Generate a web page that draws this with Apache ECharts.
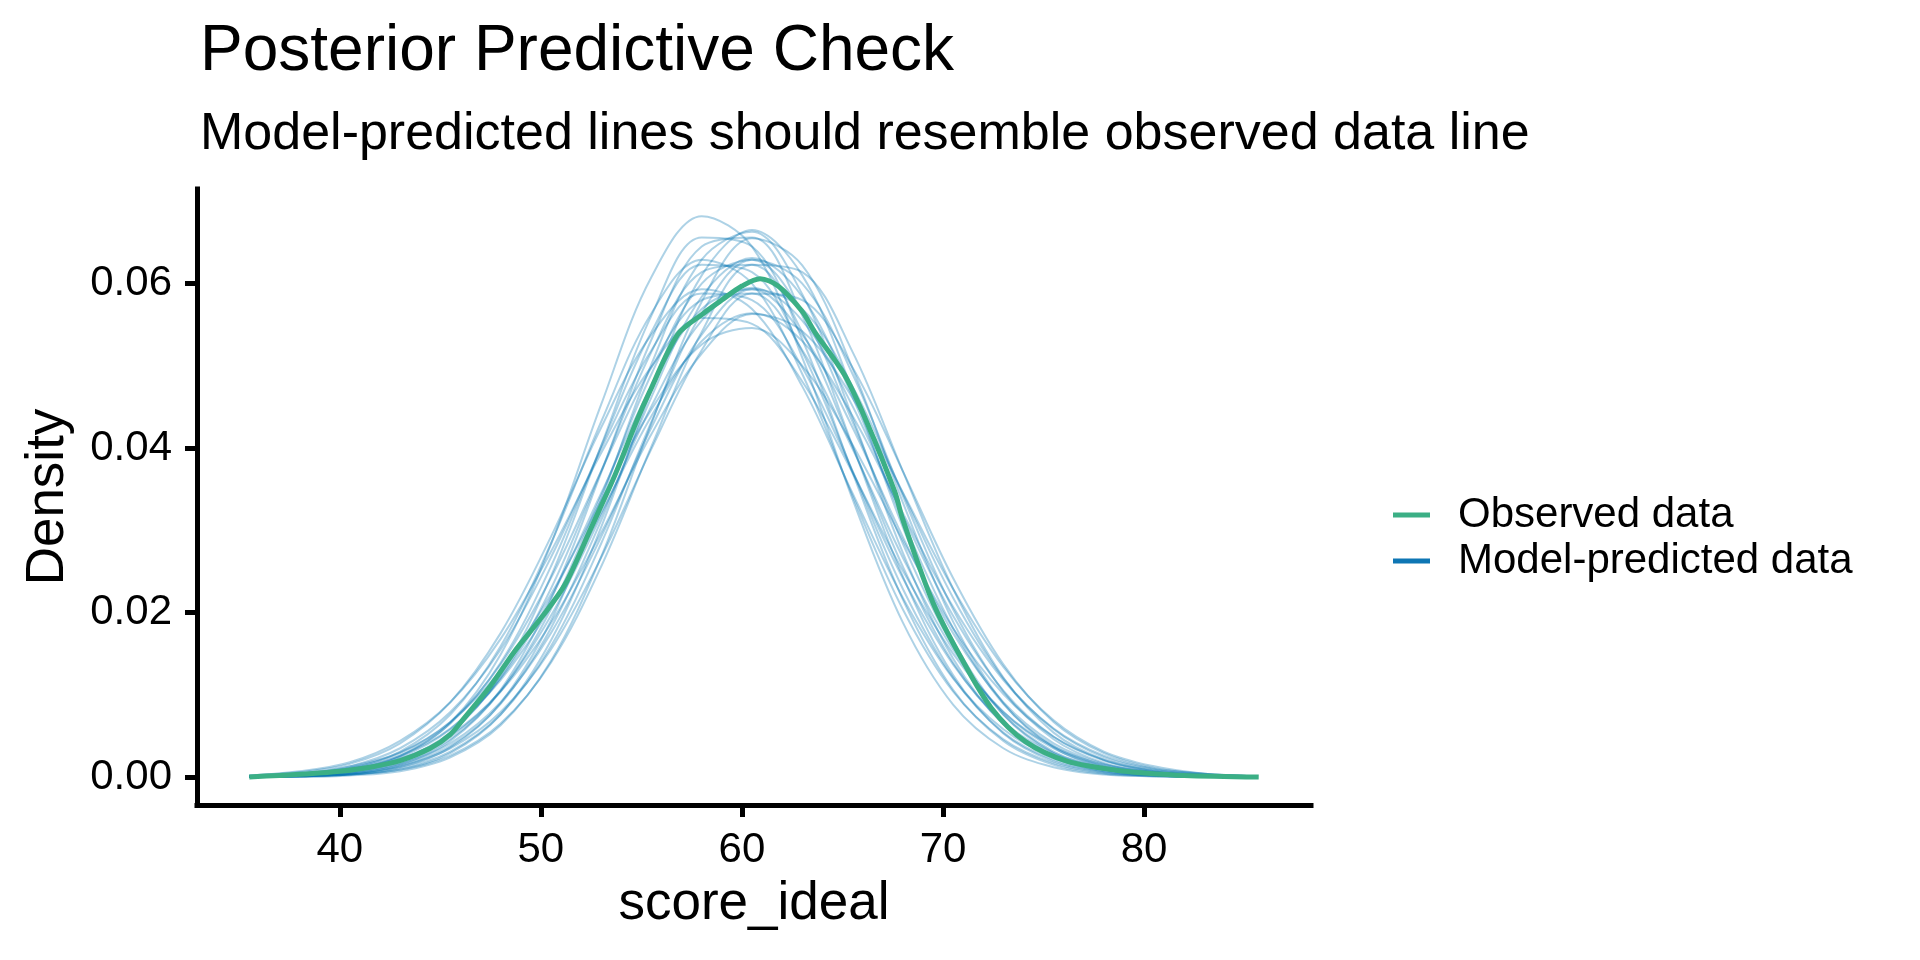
<!DOCTYPE html>
<html>
<head>
<meta charset="utf-8">
<title>Posterior Predictive Check</title>
<script src="https://cdn.jsdelivr.net/npm/echarts@6/dist/echarts.min.js"></script>
<style>
  html, body { margin: 0; padding: 0; background: #fff; }
  #chart { width: 1920px; height: 960px; }
</style>
</head>
<body>
<div id="chart"></div>
<script>
// ticks
var xTicks = [40, 50, 60, 70, 80];
var yTicks = [0, 0.02, 0.04, 0.06];

// observed density
var obsX = [35.5, 37, 38.5, 40, 41.5, 43, 44.5, 45.5, 46.2, 47.5, 48.7, 50.0, 51.2, 52.5, 53.7, 54.8, 55.4, 56.8, 58.1, 59.0,
            60.0, 60.9, 61.8, 63.0, 63.6, 65.1, 66.2, 67.6, 68.0, 69.5, 70.9, 72.4, 74.1, 76.2, 78.7, 80.0, 82.0, 85.7];
var obsY = [0.0000, 0.0002, 0.0004, 0.0007, 0.0012, 0.0020, 0.0035, 0.0052, 0.0072, 0.0111, 0.0153, 0.0193, 0.0234, 0.0303, 0.0368, 0.0435, 0.0468, 0.0538, 0.0564, 0.0580,
            0.0597, 0.0606, 0.0597, 0.0566, 0.0542, 0.0489, 0.0432, 0.0347, 0.0313, 0.0212, 0.0145, 0.0084, 0.0043, 0.0019, 0.0008, 0.0005, 0.0002, 0.0000];

// model-predicted densities, all on the same x grid
var predX = [35.5, 38, 40.5, 43, 45.5, 48, 50.5, 53, 55.5, 58, 60.5, 63, 65.5, 68, 70.5, 73, 75.5, 78, 80.5, 83, 85.5];
var predicted = [
  [0, .0002, .0007, .0025, .0066, .0149, .0283, .0453, .0608, .0682, .0645, .0510, .0338, .0188, .0088, .0035, .0012, .0003, .0001, 0, 0],
  [0, .0001, .0003, .0012, .0036, .0090, .0190, .0337, .0502, .0629, .0663, .0587, .0437, .0273, .0144, .0064, .0024, .0007, .0002, 0, 0],
  [0, 0, .0002, .0007, .0024, .0063, .0141, .0268, .0430, .0578, .0655, .0622, .0497, .0334, .0189, .0090, .0036, .0012, .0003, .0001, 0],
  [0, .0001, .0004, .0015, .0044, .0106, .0216, .0370, .0532, .0645, .0656, .0561, .0403, .0244, .0124, .0053, .0019, .0006, .0001, 0, 0],
  [0, .0001, .0003, .0009, .0029, .0076, .0166, .0304, .0470, .0610, .0665, .0610, .0470, .0304, .0166, .0076, .0029, .0009, .0003, .0001, 0],
  [0, .0001, .0006, .0019, .0053, .0124, .0244, .0403, .0561, .0656, .0645, .0532, .0370, .0216, .0106, .0044, .0015, .0004, .0001, 0, 0],
  [.0001, .0003, .0011, .0031, .0076, .0159, .0284, .0432, .0564, .0629, .0600, .0490, .0342, .0204, .0104, .0046, .0017, .0005, .0002, 0, 0],
  [.0001, .0003, .0009, .0026, .0065, .0139, .0256, .0402, .0541, .0623, .0614, .0517, .0372, .0229, .0121, .0054, .0021, .0007, .0002, .0001, 0],
  [.0001, .0002, .0007, .0021, .0054, .0121, .0229, .0372, .0517, .0614, .0623, .0541, .0402, .0256, .0139, .0065, .0026, .0009, .0003, .0001, 0],
  [0, .0002, .0005, .0017, .0046, .0104, .0204, .0342, .0490, .0600, .0629, .0564, .0432, .0284, .0159, .0076, .0031, .0011, .0003, .0001, 0],
  [0, .0001, .0004, .0014, .0038, .0089, .0181, .0312, .0462, .0584, .0631, .0584, .0462, .0312, .0181, .0089, .0038, .0014, .0004, .0001, 0],
  [0, .0001, .0003, .0011, .0031, .0076, .0159, .0284, .0432, .0564, .0629, .0600, .0490, .0342, .0204, .0104, .0046, .0017, .0005, .0002, 0],
  [0, .0001, .0003, .0009, .0026, .0065, .0139, .0256, .0402, .0541, .0623, .0614, .0517, .0372, .0229, .0121, .0054, .0021, .0007, .0002, .0001],
  [.0002, .0006, .0016, .0041, .0091, .0175, .0292, .0425, .0538, .0593, .0569, .0475, .0345, .0218, .0120, .0058, .0024, .0009, .0003, .0001, 0],
  [.0001, .0004, .0013, .0035, .0079, .0155, .0267, .0399, .0519, .0588, .0580, .0498, .0372, .0242, .0137, .0067, .0029, .0011, .0004, .0001, 0],
  [.0001, .0004, .0011, .0029, .0067, .0137, .0242, .0372, .0498, .0580, .0588, .0519, .0399, .0267, .0155, .0079, .0035, .0013, .0004, .0001, .0001],
  [.0001, .0003, .0009, .0024, .0058, .0120, .0218, .0345, .0475, .0569, .0593, .0538, .0425, .0292, .0175, .0091, .0041, .0016, .0006, .0002, .0001],
  [.0001, .0002, .0007, .0020, .0049, .0105, .0196, .0318, .0451, .0555, .0595, .0555, .0451, .0318, .0196, .0105, .0049, .0020, .0007, .0002, .0001],
  [.0001, .0001, .0004, .0013, .0035, .0079, .0155, .0267, .0399, .0519, .0588, .0580, .0498, .0372, .0242, .0137, .0067, .0029, .0011, .0004, .0001],
  [.0001, .0002, .0006, .0016, .0041, .0091, .0175, .0292, .0425, .0538, .0593, .0569, .0475, .0345, .0218, .0120, .0058, .0024, .0009, .0003, .0001],
  [.0002, .0007, .0018, .0044, .0091, .0168, .0274, .0394, .0499, .0558, .0551, .0481, .0370, .0251, .0150, .0079, .0037, .0015, .0006, .0002, .0001],
  [.0001, .0004, .0013, .0030, .0067, .0130, .0222, .0336, .0447, .0526, .0546, .0500, .0404, .0288, .0181, .0101, .0049, .0021, .0008, .0003, .0001],
  [.0001, .0003, .0008, .0022, .0051, .0104, .0187, .0297, .0417, .0515, .0563, .0542, .0461, .0346, .0229, .0134, .0069, .0031, .0013, .0004, .0001],
  [.0001, .0004, .0010, .0026, .0059, .0118, .0207, .0321, .0439, .0530, .0564, .0530, .0439, .0321, .0207, .0118, .0059, .0026, .0010, .0004, .0001]
];

var FONT = "'Liberation Sans', Arial, sans-serif";
var OBS_COLOR = '#3BAF85';
var PRED_COLOR = '#0E76B4';

var myChart = echarts.init(document.getElementById('chart'));

var series = predicted.map(function (ys) {
    return {
        name: 'Model-predicted data',
        type: 'line',
        data: ys.map(function (y, i) { return [predX[i], y]; }),
        showSymbol: false,
        smooth: 0.35,
        silent: true,
        z: 2,
        itemStyle: { color: PRED_COLOR },
        lineStyle: { color: '#0072B2', width: 2, opacity: 0.32 }
    };
});
series.push({
    name: 'Observed data',
    type: 'line',
    data: obsY.map(function (y, i) { return [obsX[i], y]; }),
    showSymbol: false,
    smooth: 0.3,
    silent: true,
    z: 5,
    itemStyle: { color: OBS_COLOR },
    lineStyle: { color: OBS_COLOR, width: 5 }
});

var option = {
    animation: false,
    backgroundColor: '#fff',
    textStyle: { fontFamily: FONT },
    title: [{
        text: 'Posterior Predictive Check',
        left: 200, top: 20, padding: 0,
        textStyle: { fontSize: 64, fontWeight: 'normal', color: '#000', fontFamily: FONT }
    }, {
        text: 'Model-predicted lines should resemble observed data line',
        left: 200, top: 109, padding: 0,
        textStyle: { fontSize: 52, fontWeight: 'normal', color: '#000', fontFamily: FONT }
    }],
    legend: {
        orient: 'vertical',
        left: 1393, top: 494, padding: 0,
        icon: 'rect',
        itemWidth: 37, itemHeight: 5, itemGap: 4,
        textStyle: { fontSize: 42, color: '#000', fontFamily: FONT, padding: [0, 0, 0, 23] },
        data: [
            { name: 'Observed data', itemStyle: { color: OBS_COLOR, opacity: 1 } },
            { name: 'Model-predicted data', itemStyle: { color: PRED_COLOR, opacity: 1 } }
        ]
    },
    grid: { left: 197, top: 189, width: 1114, height: 616, containLabel: false },
    xAxis: {
        type: 'value',
        min: 32.9, max: 88.3,
        name: 'score_ideal',
        nameLocation: 'middle',
        nameGap: 73,
        nameTextStyle: { fontSize: 53, color: '#000', fontFamily: FONT },
        axisLine: { onZero: false, lineStyle: { color: '#000', width: 5, cap: 'square' } },
        axisTick: { length: 12, lineStyle: { color: '#000', width: 5 }, customValues: xTicks },
        axisLabel: { fontSize: 42, color: '#000', margin: 24, fontFamily: FONT, customValues: xTicks },
        splitLine: { show: false }
    },
    yAxis: {
        type: 'value',
        min: -0.0034, max: 0.0715,
        name: 'Density',
        nameLocation: 'middle',
        nameGap: 122,
        nameTextStyle: { fontSize: 53, color: '#000', fontFamily: FONT },
        axisLine: { onZero: false, lineStyle: { color: '#000', width: 5, cap: 'square' } },
        axisTick: { length: 12, lineStyle: { color: '#000', width: 5 }, customValues: yTicks },
        axisLabel: {
            fontSize: 42, color: '#000', margin: 25, fontFamily: FONT, customValues: yTicks,
            formatter: function (v) { return v.toFixed(2); }
        },
        splitLine: { show: false }
    },
    series: series
};
myChart.setOption(option);
</script>
</body>
</html>
